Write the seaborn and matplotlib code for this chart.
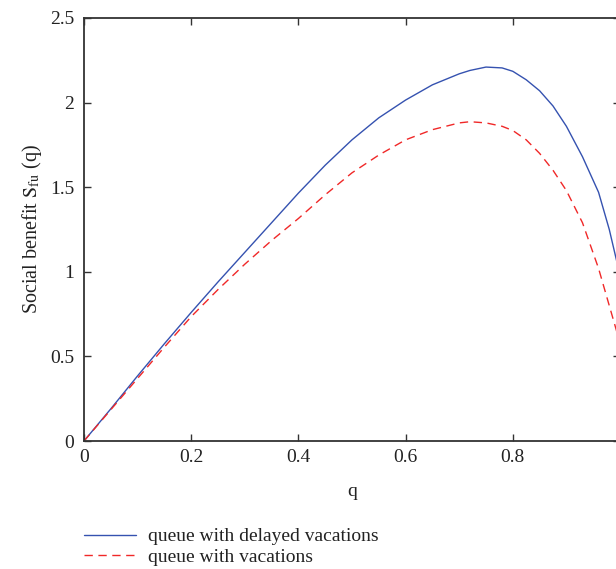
import matplotlib
matplotlib.use("Agg")
import matplotlib.pyplot as plt
import seaborn as sns
import pandas as pd

# Data
q = [0.0, 0.05, 0.1, 0.15, 0.2, 0.25, 0.3, 0.35, 0.4, 0.45, 0.5, 0.55, 0.6, 0.65,
     0.7, 0.72, 0.75, 0.78, 0.8, 0.825, 0.85, 0.875, 0.9, 0.93, 0.96, 0.98, 1.0]
delayed = [0.0, 0.19, 0.385, 0.575, 0.76, 0.94, 1.115, 1.29, 1.465, 1.63, 1.78, 1.91,
           2.015, 2.105, 2.17, 2.19, 2.21, 2.205, 2.185, 2.135, 2.07, 1.98, 1.86, 1.68,
           1.47, 1.25, 0.98]
vacation = [0.0, 0.185, 0.37, 0.555, 0.735, 0.895, 1.045, 1.185, 1.315, 1.455, 1.585, 1.69,
            1.78, 1.84, 1.88, 1.887, 1.88, 1.86, 1.835, 1.78, 1.70, 1.60, 1.48, 1.29,
            1.02, 0.80, 0.58]
labels = ["queue with delayed vacations", "queue with vacations"]
xticks = [0, 0.2, 0.4, 0.6, 0.8, 1.0]
xticklabels = ["0", "0.2", "0.4", "0.6", "0.8", ""]
yticks = [0, 0.5, 1, 1.5, 2, 2.5]
yticklabels = ["0", "0.5", "1", "1.5", "2", "2.5"]

sns.set_theme(style="ticks")
plt.rcParams["font.family"] = ["Liberation Serif", "DejaVu Serif"]
plt.rcParams["mathtext.fontset"] = "stix"

W, H = 616, 569
fig = plt.figure(figsize=(W / 100, H / 100), dpi=100)
ax = fig.add_axes([84 / W, (H - 441) / H, 536 / W, 423 / H])

df = pd.DataFrame({"q": q, "d": delayed, "v": vacation})
sns.lineplot(data=df, x="q", y="d", ax=ax, color="#3552b0", lw=1.0, label=labels[0])
sns.lineplot(data=df, x="q", y="v", ax=ax, color="#f02828", lw=1.0, label=labels[1])
ax.lines[1].set_dashes((6, 4))

ax.set_xlim(0, 1)
ax.set_ylim(0, 2.5)
ax.set_xticks(xticks)
ax.set_xticklabels(xticklabels)
ax.set_yticks(yticks)
ax.set_yticklabels(yticklabels)
ax.tick_params(direction="in", top=True, right=True, length=5, width=1.0,
               labelsize=14, color="#333333", labelcolor="#222222")
ax.tick_params(axis="x", pad=6)
ax.tick_params(axis="y", pad=7)
for s in ax.spines.values():
    s.set_linewidth(1.3)
    s.set_color("#333333")

ax.set_xlabel("q", fontsize=14, color="#222222", labelpad=12)
ax.set_ylabel(r"Social benefit $\mathrm{S}_{\mathrm{fu}}$ (q)", fontsize=14.5,
              color="#222222", labelpad=4)

handles, labs = ax.get_legend_handles_labels()
ax.get_legend().remove()
fig.legend(handles, labs, loc="upper left", bbox_to_anchor=(76 / W, 1 - 520 / H),
           frameon=False, fontsize=14, handlelength=2.7, handletextpad=0.6,
           labelspacing=0.15, borderaxespad=0, labelcolor="#222222")

fig.savefig("out.png", dpi=100)
